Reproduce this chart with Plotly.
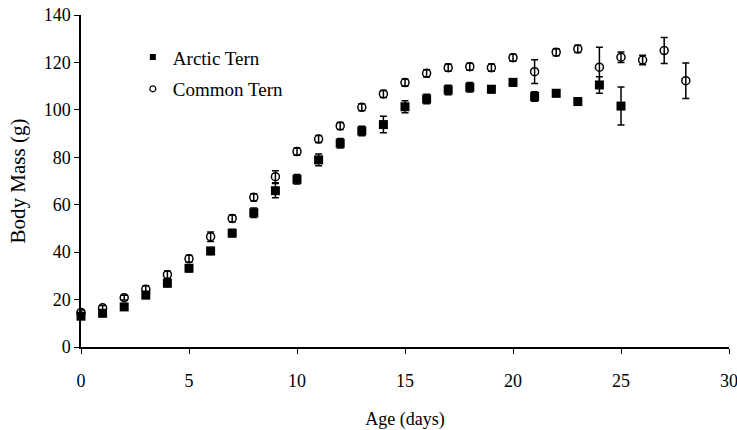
import plotly.graph_objects as go

arctic_days = list(range(0, 26))
arctic_mass = [13.0, 14.2, 16.9, 21.9, 26.9, 33.2, 40.5, 48.0, 56.6, 65.9, 70.7, 78.9, 85.9,
               91.1, 93.8, 101.3, 104.6, 108.4, 109.5, 108.7, 111.6, 105.6, 107.0, 103.5,
               110.5, 101.6]
arctic_err = [1.0, 1.0, 1.0, 1.5, 1.5, 1.5, 1.5, 1.5, 2.0, 3.0, 2.0, 2.5, 2.0,
              2.0, 3.5, 2.5, 2.0, 2.0, 2.0, 1.5, 1.5, 2.0, 1.5, 1.5, 3.5, 8.0]

common_days = list(range(0, 29))
common_mass = [14.6, 16.5, 20.8, 24.3, 30.5, 37.2, 46.5, 54.2, 63.1, 71.8, 82.4, 87.7, 93.2,
               101.1, 106.7, 111.5, 115.4, 117.8, 118.2, 117.8, 122.0, 116.1, 124.3, 125.7,
               118.0, 122.2, 121.0, 125.0, 112.3]
common_err = [1.0, 1.0, 1.0, 1.5, 1.5, 1.5, 2.0, 1.5, 1.5, 2.5, 1.5, 1.5, 1.5,
              1.5, 1.5, 1.5, 1.5, 1.5, 1.5, 1.5, 1.5, 5.0, 1.5, 1.5,
              8.4, 2.2, 2.0, 5.5, 7.5]

x_ticks = [0, 5, 10, 15, 20, 25, 30]
y_ticks = [0, 20, 40, 60, 80, 100, 120, 140]

FONT = "Liberation Serif, Times New Roman, serif"

fig = go.Figure()

fig.add_trace(go.Scatter(
    x=common_days, y=common_mass, mode="markers", showlegend=False,
    marker=dict(symbol="circle-open", size=8, color="black", line=dict(width=1.5)),
    error_y=dict(type="data", array=common_err, visible=True, color="black",
                 thickness=1.5, width=3.5),
    cliponaxis=False,
))
fig.add_trace(go.Scatter(
    x=arctic_days, y=arctic_mass, mode="markers", showlegend=False,
    marker=dict(symbol="square", size=9, color="black"),
    error_y=dict(type="data", array=arctic_err, visible=True, color="black",
                 thickness=1.5, width=3.5),
    cliponaxis=False,
))

# legend entries
fig.add_trace(go.Scatter(
    x=[None], y=[None], mode="markers", name="Arctic Tern", legendgroup="a",
    marker=dict(symbol="square", size=6, color="black"),
))
fig.add_trace(go.Scatter(
    x=[None], y=[None], mode="markers", name="Common Tern", legendgroup="c",
    marker=dict(symbol="circle-open", size=6, color="black", line=dict(width=1.2)),
))

fig.update_layout(
    width=737, height=430,
    margin=dict(l=81, r=8, t=15, b=83, autoexpand=False),
    paper_bgcolor="white", plot_bgcolor="white",
    font=dict(family=FONT, size=18, color="black"),
    legend=dict(x=0.08, y=0.93, xanchor="left", yanchor="top",
                font=dict(family=FONT, size=19, color="black"),
                traceorder="grouped", tracegroupgap=4, itemwidth=30,
                bgcolor="rgba(0,0,0,0)"),
)
fig.update_xaxes(
    range=[0, 30], tickvals=x_ticks, ticktext=[str(v) for v in x_ticks],
    showgrid=False, zeroline=False, showline=True, linecolor="black", linewidth=1.5,
    ticks="outside", ticklen=5, tickwidth=1.2, tickcolor="black",
    tickfont=dict(family=FONT, size=18), ticklabelstandoff=12, automargin=False,
    ticklabeloverflow="allow",
    title=dict(text="Age (days)", font=dict(family=FONT, size=18), standoff=22),
)
fig.update_yaxes(
    range=[0, 140], tickvals=y_ticks, ticktext=[str(v) for v in y_ticks],
    showgrid=False, zeroline=False, showline=True, linecolor="black", linewidth=1.5,
    ticks="outside", ticklen=5, tickwidth=1.2, tickcolor="black",
    tickfont=dict(family=FONT, size=18), automargin=False,
    ticklabeloverflow="allow",
    title=dict(text="Body Mass (g)", font=dict(family=FONT, size=21), standoff=12),
)

fig.write_html("out.html")
